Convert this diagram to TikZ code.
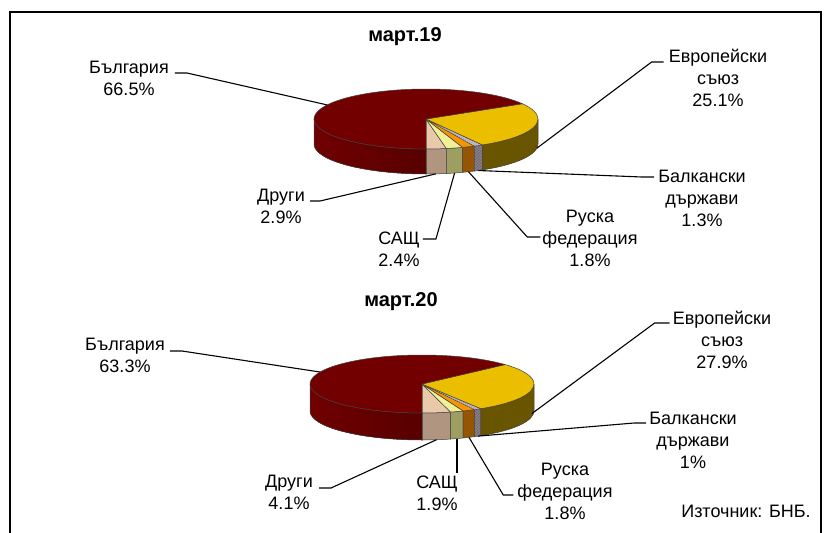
\documentclass[tikz,border=0pt]{standalone}
\usepackage{fontspec}
\setmainfont{Liberation Sans}
\usetikzlibrary{calc,patterns}
\definecolor{bgtop}{RGB}{115,0,0}
\definecolor{bgsideL}{RGB}{112,0,0}
\definecolor{bgsideR}{RGB}{88,0,0}
\definecolor{eutop}{RGB}{236,190,0}
\definecolor{euside}{RGB}{105,85,0}
\definecolor{drtop}{RGB}{234,200,170}
\definecolor{drside}{RGB}{176,150,128}
\definecolor{ustop}{RGB}{240,240,150}
\definecolor{usside}{RGB}{158,158,98}
\definecolor{rutop}{RGB}{245,150,0}
\definecolor{ruside}{RGB}{150,85,0}
\definecolor{bktop}{RGB}{205,185,205}
\definecolor{bkside}{RGB}{140,125,140}
\tikzset{
  lbl/.style = {align=center, inner sep=0pt, font=\fontsize{18}{22}\selectfont},
  ttl/.style = {inner sep=0pt, font=\bfseries\fontsize{20}{24}\selectfont},
  leader/.style = {line width=1.1pt},
  slice/.style = {draw=black!75, line width=0.5pt, line join=round},
  frame/.style = {line width=1.6pt}
}
% #1,#2 top angles, #3,#4 front side angles, #5 top fill, #6 side fill
\newcommand{\pieslice}[6]{%
  \filldraw[slice,#6] ({cos(#3)*\pa},{sin(#3)*\pb}) arc[start angle=#3, end angle=#4, x radius=\pa, y radius=\pb]
    -- ++(0,-\pd) arc[start angle=#4, end angle=#3, x radius=\pa, y radius=\pb] -- cycle;
  \filldraw[slice,#5] (0,0) -- ({cos(#1)*\pa},{sin(#1)*\pb}) arc[start angle=#1, end angle=#2, x radius=\pa, y radius=\pb] -- cycle;
}

\begin{document}
\begin{tikzpicture}[x=1pt,y=-1pt]
  \useasboundingbox (0,0) rectangle (828,533);
  \draw[frame] (10,533) -- (10,12) -- (821,12) -- (821,533);

  % март.19
  \node[ttl] (t19) at (405,37) {март.19};
  \begin{scope}[shift={(426,119)},y=1pt]
    \def\pa{112pt}\def\pb{30pt}\def\pd{25pt}
    \pieslice{270}{280.44}{270}{280.44}{fill=drtop}{fill=drside}
    \pieslice{280.44}{289.08}{280.44}{289.08}{fill=ustop}{fill=usside}
    \pieslice{289.08}{295.56}{289.08}{295.56}{fill=rutop}{fill=ruside}
    \pieslice{295.56}{300.24}{295.56}{300.24}{fill=bktop,postaction={pattern=north east lines,pattern color=black!35}}{fill=bkside,postaction={pattern=north east lines,pattern color=black!60}}
    \pieslice{300.24}{390.6}{300.24}{360}{fill=eutop}{fill=euside}
    \pieslice{390.6}{630}{540}{630}{fill=bgtop}{left color=bgsideL,right color=bgsideR}
    \coordinate (bg19p) at ({cos(152)*\pa},{sin(152)*\pb});
    \coordinate (eu19p) at ({cos(352)*\pa},{sin(352)*\pb-\pd});
    \coordinate (dr19p) at ({cos(275)*\pa},{sin(275)*\pb-\pd});
    \coordinate (us19p) at ({cos(284.8)*\pa},{sin(284.8)*\pb-\pd});
    \coordinate (ru19p) at ({cos(292.3)*\pa},{sin(292.3)*\pb-\pd});
    \coordinate (bk19p) at ({cos(297.9)*\pa},{sin(297.9)*\pb-\pd});
  \end{scope}
  \node[lbl] (bg19) at (129,78.5) {България\\66.5\%};
  \node[lbl] (eu19) at (718,78) {Европейски\\съюз\\25.1\%};
  \node[lbl] (bk19) at (702,198) {Балкански\\държави\\1.3\%};
  \node[lbl] (dr19) at (281,206.5) {Други\\2.9\%};
  \node[lbl] (us19) at (399,249) {САЩ\\2.4\%};
  \node[lbl] (ru19) at (590,238.5) {Руска\\федерация\\1.8\%};
  \draw[leader] ([shift={(6,-5.5)}]bg19.east) -- ++(12,0) -- (bg19p);
  \draw[leader] ([shift={(-5,-16)}]eu19.west) -- ++(-12,0) -- (eu19p);
  \draw[leader] ([shift={(-4,-21)}]bk19.west) -- ++(-12,0) -- (bk19p);
  \draw[leader] ([shift={(5,-5.5)}]dr19.east) -- ++(10,0) -- (dr19p);
  \draw[leader] ([shift={(3,-10)}]us19.east) -- ++(13,0) -- (us19p);
  \draw[leader] ([shift={(-2,-1.5)}]ru19.west) -- ++(-13,0) -- (ru19p);

  % март.20
  \node[ttl] (t20) at (401,302) {март.20};
  \begin{scope}[shift={(422,384)},y=1pt]
    \def\pa{112pt}\def\pb{29pt}\def\pd{27pt}
    \pieslice{270}{284.76}{270}{284.76}{fill=drtop}{fill=drside}
    \pieslice{284.76}{291.6}{284.76}{291.6}{fill=ustop}{fill=usside}
    \pieslice{291.6}{298.08}{291.6}{298.08}{fill=rutop}{fill=ruside}
    \pieslice{298.08}{301.68}{298.08}{301.68}{fill=bktop,postaction={pattern=north east lines,pattern color=black!35}}{fill=bkside,postaction={pattern=north east lines,pattern color=black!60}}
    \pieslice{301.68}{402.12}{301.68}{360}{fill=eutop}{fill=euside}
    \pieslice{402.12}{630}{540}{630}{fill=bgtop}{left color=bgsideL,right color=bgsideR}
    \coordinate (bg20p) at ({cos(155.6)*\pa},{sin(155.6)*\pb});
    \coordinate (eu20p) at ({cos(349)*\pa},{sin(349)*\pb-24pt});
    \coordinate (dr20p) at ({cos(277.4)*\pa},{sin(277.4)*\pb-\pd});
    \coordinate (us20p) at ({cos(288.2)*\pa},{sin(288.2)*\pb-\pd});
    \coordinate (ru20p) at ({cos(294.8)*\pa},{sin(294.8)*\pb-\pd});
    \coordinate (bk20p) at ({cos(299.9)*\pa},{sin(299.9)*\pb-\pd});
  \end{scope}
  \node[lbl] (bg20) at (125,355.5) {България\\63.3\%};
  \node[lbl] (eu20) at (722,340) {Европейски\\съюз\\27.9\%};
  \node[lbl] (bk20) at (693,440) {Балкански\\държави\\1\%};
  \node[lbl] (dr20) at (289,492.5) {Други\\4.1\%};
  \node[lbl] (us20) at (437,493.5) {САЩ\\1.9\%};
  \node[lbl] (ru20) at (565,491.5) {Руска\\федерация\\1.8\%};
  \draw[leader] ([shift={(5,-4.5)}]bg20.east) -- ++(12,0) -- (bg20p);
  \draw[leader] ([shift={(-3,-17)}]eu20.west) -- ++(-15,0) -- (eu20p);
  \draw[leader] ([shift={(-3,-17)}]bk20.west) -- ++(-12,0) -- (bk20p);
  \draw[leader] ([shift={(6,-4.5)}]dr20.east) -- ++(12,0) -- (dr20p);
  \draw[leader] ([yshift=3pt]us20.north -| us20p) -- (us20p);
  \draw[leader] ([shift={(-4,3.5)}]ru20.west) -- ++(-10,0) -- (ru20p);

  \node[lbl] (src) at (746,511) {Източник: БНБ.};
\end{tikzpicture}
\end{document}
